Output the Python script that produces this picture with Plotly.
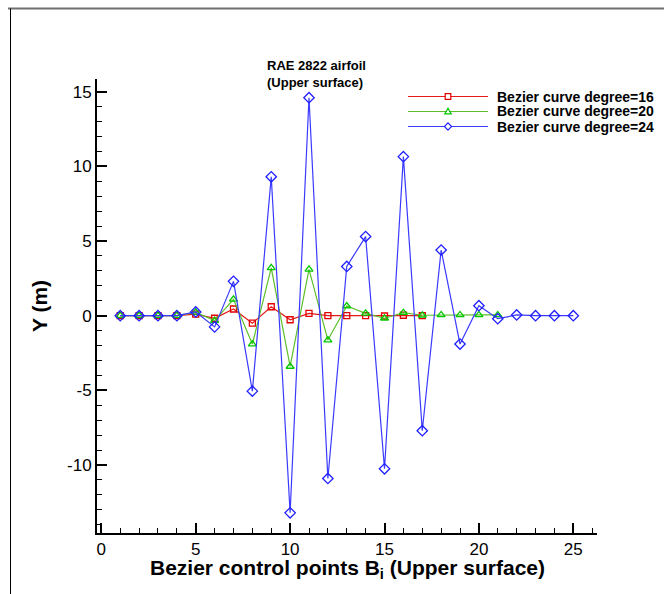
import plotly.graph_objects as go

# ---- data ----
x16 = list(range(1, 18))
y16 = [0, 0, 0, 0, 0.1, -0.17, 0.45, -0.5, 0.6, -0.27, 0.16, 0, 0, 0, -0.02, 0.03, 0]

x20 = list(range(1, 22))
y20 = [0, 0, 0, 0, 0.22, -0.33, 1.1, -1.9, 3.2, -3.4, 3.1, -1.63, 0.65, 0.16, -0.17,
       0.2, 0.03, 0.05, 0.05, 0.05, 0.05]

x24 = list(range(1, 26))
y24 = [0, 0, 0, 0, 0.25, -0.75, 2.3, -5.05, 9.3, -13.2, 14.6, -10.9, 3.3, 5.3, -10.25,
       10.65, -7.7, 4.4, -1.9, 0.67, -0.2, 0.05, 0, 0, 0]

names = ["Bezier curve degree=16", "Bezier curve degree=20", "Bezier curve degree=24"]

xticks = [0, 5, 10, 15, 20, 25]
xticktext = ["0", "5", "10", "15", "20", "25"]
yticks = [-10, -5, 0, 5, 10, 15]
yticktext = ["-10", "-5", "0", "5", "10", "15"]

FONT = "Liberation Sans, Arial, sans-serif"

line_colors = ["#e41a1a", "#5cbf2a", "#3a3aff"]
marker_colors = ["#e00000", "#00c800", "#2020ff"]
symbols = ["square-open", "triangle-up-open", "diamond-open"]
msizes = [6, 7, 8]

fig = go.Figure()
for xs, ys, nm, lc, mc, sym, ms in zip([x16, x20, x24], [y16, y20, y24], names,
                                       line_colors, marker_colors, symbols, msizes):
    fig.add_trace(go.Scatter(x=xs, y=ys, name=nm, mode="lines+markers", showlegend=False,
                             line=dict(color=lc, width=1.2),
                             marker=dict(symbol=sym, size=ms, color=mc,
                                         line=dict(width=1.3, color=mc))))

W, H = 664, 594
L, T, B = 97, 79, 61
R = 0
PLOT_RIGHT = 596.7
pw = W - L - R
ph = H - T - B
dom_right = (PLOT_RIGHT - L) / pw

def px(xp):
    return (xp - L) / pw

def py(yp):
    return (H - B - yp) / ph

axis_common = dict(
    showline=True, linewidth=2, linecolor="black", mirror=False,
    ticks="inside", ticklen=10, tickwidth=2, tickcolor="black",
    showgrid=False, zeroline=False,
    tickfont=dict(family=FONT, size=17, color="black"),
)

fig.update_xaxes(range=[-0.23, 26.24], domain=[0, dom_right],
                 tickvals=xticks, ticktext=xticktext,
                 minor=dict(ticks="inside", dtick=1, tick0=0, ticklen=5, tickwidth=1,
                            tickcolor="black", showgrid=False),
                 **axis_common)
fig.update_yaxes(range=[-14.55, 15.85], tickvals=yticks, ticktext=yticktext,
                 minor=dict(ticks="inside", dtick=1, tick0=0, ticklen=5, tickwidth=1,
                            tickcolor="black", showgrid=False),
                 title=dict(text="Y (m)",
                            font=dict(family=FONT, size=21, color="black", weight="bold"),
                            standoff=14),
                 **axis_common)

# x-axis title
fig.add_annotation(text="<b>Bezier control points B<sub>i</sub> (Upper surface)</b>",
                   xref="paper", yref="paper", x=px(347.5), y=py(569),
                   xanchor="center", yanchor="middle", showarrow=False, borderpad=0,
                   font=dict(family=FONT, size=21, color="black"))

# plot title
fig.add_annotation(text="<b>RAE 2822 airfoil<br>(Upper surface)</b>", xref="paper", yref="paper",
                   x=px(265), y=py(73.5), xanchor="left", yanchor="middle", align="left",
                   showarrow=False, font=dict(family=FONT, size=13, color="black"))

# custom legend (line + marker glyph + label)
rows = [96.5, 111.5, 126.5]
glyphs = [
    "M-2.8,-2.8 L2.8,-2.8 L2.8,2.8 L-2.8,2.8 Z",
    "M-3.2,-2.4 L3.2,-2.4 L0,3.2 Z",
    "M0,-3.6 L3.6,0 L0,3.6 L-3.6,0 Z",
]
for yr, nm, lc, mc, g in zip(rows, names, line_colors, marker_colors, glyphs):
    fig.add_shape(type="line", xref="paper", yref="paper", x0=px(408), x1=px(488),
                  y0=py(yr), y1=py(yr), line=dict(color=lc, width=1.2))
    fig.add_shape(type="path", xref="paper", yref="paper",
                  xsizemode="pixel", ysizemode="pixel", xanchor=px(448), yanchor=py(yr),
                  path=g, fillcolor="white", line=dict(color=mc, width=1.2))
    fig.add_annotation(text="<b>" + nm + "</b>", xref="paper", yref="paper",
                       x=px(496), y=py(yr), xanchor="left", yanchor="middle",
                       showarrow=False, borderpad=0,
                       font=dict(family=FONT, size=14, color="black"))

# page frame
fig.add_shape(type="line", xref="paper", yref="paper", x0=px(8), x1=px(664),
              y0=py(8.5), y1=py(8.5), line=dict(color="#707070", width=2))
fig.add_shape(type="line", xref="paper", yref="paper", x0=px(10.5), x1=px(10.5),
              y0=py(8.5), y1=py(594), line=dict(color="black", width=1))

fig.update_layout(
    width=W, height=H,
    margin=dict(l=L, r=R, t=T, b=B),
    plot_bgcolor="white", paper_bgcolor="white",
    font=dict(family=FONT, color="black"),
    showlegend=False,
)

fig.write_html("out.html")
